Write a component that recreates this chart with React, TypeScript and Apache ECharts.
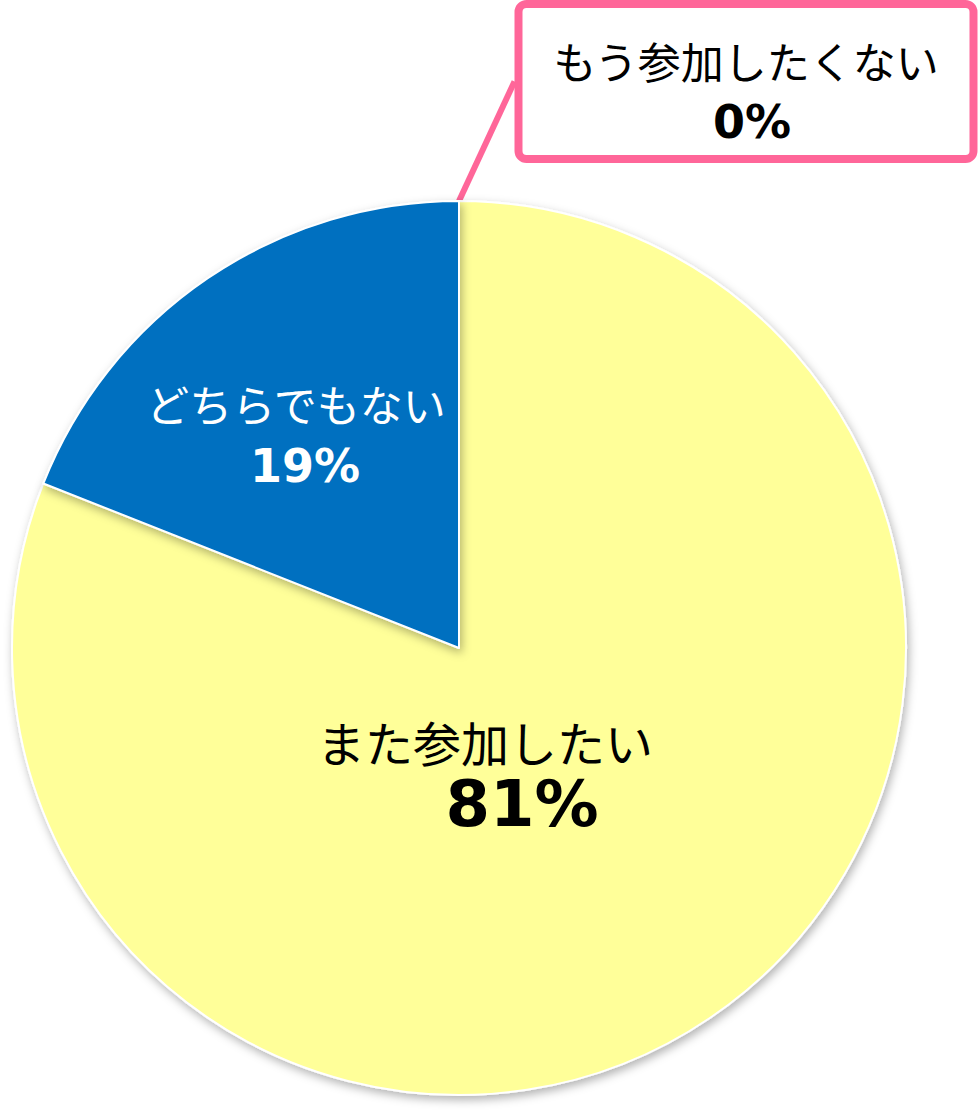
import React, { useEffect, useRef } from "react";
import * as echarts from "echarts";

const categories = ["また参加したい", "どちらでもない", "もう参加したくない"];
const values = [81, 19, 0];
const sliceColors = ["#FFFF99", "#0070C0", "#FF6699"];

const JP = '"Noto Sans CJK JP", "Noto Sans", sans-serif';
const NUM = '"DejaVu Sans", Verdana, sans-serif';
const PINK = "#FF6699";

export default function App() {
  const ref = useRef<HTMLDivElement>(null);
  useEffect(() => {
    document.body.style.margin = "0";
    const chart = echarts.init(ref.current!, null, { renderer: "svg" });

    const labelCfg = [
      {
        position: "inside",
        rich: {
          name: { fontFamily: JP, fontSize: 48, color: "#000", lineHeight: 58 },
          pct: { fontFamily: NUM, fontSize: 64, fontWeight: "bold", color: "#000", lineHeight: 68, padding: [0, 0, 0, 74] },
        },
      },
      {
        position: "inside",
        rich: {
          name: { fontFamily: JP, fontSize: 43, color: "#fff", lineHeight: 60 },
          pct: { fontFamily: NUM, fontSize: 46, fontWeight: "bold", color: "#fff", lineHeight: 66, padding: [0, 0, 0, 18] },
        },
      },
      {
        position: "outside",
        backgroundColor: "#fff",
        borderColor: PINK,
        borderWidth: 8,
        borderRadius: 4,
        padding: [20, 30, 3, 30],
        overflow: "none",
        align: "center",
        rich: {
          name: { fontFamily: JP, fontSize: 43, color: "#000", lineHeight: 64, align: "center" },
          pct: { fontFamily: NUM, fontSize: 46, fontWeight: "bold", color: "#000", lineHeight: 60, padding: [0, 0, 0, 12], align: "center" },
        },
      },
    ];

    const labelPos = [
      { x: 485, y: 775 },
      { x: 296, y: 436 },
      { x: 746, y: 81.5 },
    ];

    const data = categories.map((name, i) => ({
      name,
      value: values[i],
      itemStyle: { color: sliceColors[i] },
      label: labelCfg[i],
      labelLine:
        i === 2
          ? { show: true, length: 20, length2: 0, smooth: false, lineStyle: { color: PINK, width: 6 } }
          : { show: false },
    }));

    chart.setOption({
      animation: false,
      series: [
        {
          type: "pie",
          center: [459, 648],
          radius: 447,
          startAngle: 90,
          clockwise: true,
          avoidLabelOverlap: false,
          itemStyle: {
            borderColor: "#fff",
            borderWidth: 2,
            shadowBlur: 10,
            shadowOffsetX: 2,
            shadowOffsetY: 4,
            shadowColor: "rgba(0,0,0,0.3)",
          },
          emphasis: { disabled: true },
          label: {
            show: true,
            formatter: (p: any) => `{name|${p.name}}\n{pct|${p.percent}%}`,
          },
          labelLayout: (params: any) => ({
            x: labelPos[params.dataIndex].x,
            y: labelPos[params.dataIndex].y,
            align: "center",
            verticalAlign: "middle",
          }),
          data,
        },
      ],
    });
    return () => chart.dispose();
  }, []);
  return <div ref={ref} style={{ width: 978, height: 1116 }} />;
}
